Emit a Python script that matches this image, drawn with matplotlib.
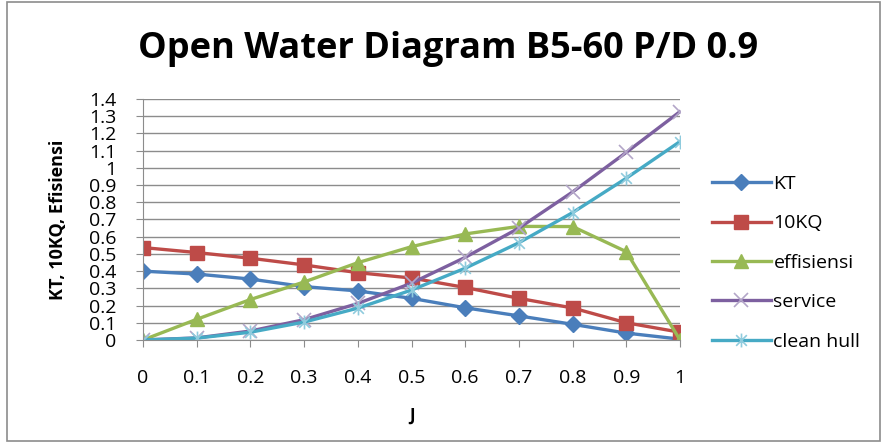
import matplotlib
matplotlib.use('Agg')
import matplotlib.pyplot as plt
from matplotlib.path import Path
from matplotlib.patches import Rectangle

plt.rcParams['font.family'] = ['Open Sans', 'DejaVu Sans']

# data
j = [0, 0.1, 0.2, 0.3, 0.4, 0.5, 0.6, 0.7, 0.8, 0.9, 1.0]
kt = [0.40, 0.383, 0.354, 0.31, 0.285, 0.242, 0.187, 0.14, 0.091, 0.04, 0.005]
kq10 = [0.537, 0.508, 0.475, 0.436, 0.391, 0.36, 0.305, 0.242, 0.186, 0.10, 0.045]
eff = [0.0, 0.12, 0.235, 0.337, 0.449, 0.542, 0.616, 0.66, 0.659, 0.513, 0.0]
service = [0.0, 0.012, 0.052, 0.118, 0.212, 0.33, 0.48, 0.65, 0.86, 1.09, 1.327]
clean = [0.0, 0.011, 0.045, 0.104, 0.185, 0.29, 0.417, 0.565, 0.74, 0.94, 1.153]
yticks = [0, 0.1, 0.2, 0.3, 0.4, 0.5, 0.6, 0.7, 0.8, 0.9, 1, 1.1, 1.2, 1.3, 1.4]
ytick_labels = ['0', '0.1', '0.2', '0.3', '0.4', '0.5', '0.6', '0.7', '0.8', '0.9',
                '1', '1.1', '1.2', '1.3', '1.4']
xtick_labels = ['0', '0.1', '0.2', '0.3', '0.4', '0.5', '0.6', '0.7', '0.8', '0.9', '1']

# excel style star: x with a vertical bar
star = Path([(-1, -1), (1, 1), (-1, 1), (1, -1), (0, -1.3), (0, 1.3)],
            [Path.MOVETO, Path.LINETO, Path.MOVETO, Path.LINETO, Path.MOVETO, Path.LINETO])

fig = plt.figure(figsize=(8.86, 4.45), dpi=100)
ax = fig.add_axes([0.1614, 0.236, 0.6061, 0.5415])

ax.plot(j, kt, color='#4A7EBB', lw=2.4, marker='D', ms=8.5, mec='#4A7EBB', label='KT')
ax.plot(j, kq10, color='#BE4B48', lw=2.4, marker='s', ms=10, mec='#BE4B48', label='10KQ')
ax.plot(j, eff, color='#98B954', lw=2.4, marker='^', ms=10, mec='#98B954', label='effisiensi')
ax.plot(j, service, color='#7D60A0', lw=2.4, marker='x', ms=10, mew=1.2,
        mec='#B3A6C8', label='service')
ax.plot(j, clean, color='#46AAC5', lw=2.4, marker=star, ms=10, mew=1.2,
        mec='#8FCBDD', label='clean hull')

ax.set_xlim(0, 1)
ax.set_ylim(0, 1.4)
ax.set_yticks(yticks)
ax.set_yticklabels(ytick_labels, fontsize=14)
ax.set_xticks(j)
ax.set_xticklabels(xtick_labels, fontsize=14)
ax.tick_params(axis='y', length=5, color='#8c8c8c', pad=14)
ax.tick_params(axis='x', length=5, color='#8c8c8c', pad=16)
ax.grid(axis='y', color='#8c8c8c', lw=1)
ax.set_axisbelow(True)
for s in ['top', 'right']:
    ax.spines[s].set_visible(False)
for s in ['left', 'bottom']:
    ax.spines[s].set_color('#8c8c8c')
for lab in ax.get_xticklabels() + ax.get_yticklabels():
    lab.set_clip_on(False)

ax.set_xlabel('J', fontsize=12, fontweight='bold', labelpad=14)
ax.set_ylabel('KT, 10KQ, Efisiensi', fontsize=13, fontweight='bold', labelpad=16)

fig.text(0.506, 0.89, 'Open Water Diagram B5-60 P/D 0.9', ha='center', va='center',
         fontsize=26, fontweight='bold')

ax.legend(loc='center left', bbox_to_anchor=(1.06, 0.32), frameon=False, fontsize=14,
          handlelength=3.0, handletextpad=0.15, labelspacing=1.1, borderaxespad=0,
          borderpad=0)

fig.patches.append(Rectangle((0.008, 0.01), 0.985, 0.985, transform=fig.transFigure,
                             fill=False, edgecolor='#8c8c8c', lw=1.2))

fig.savefig('out.png', dpi=100)
